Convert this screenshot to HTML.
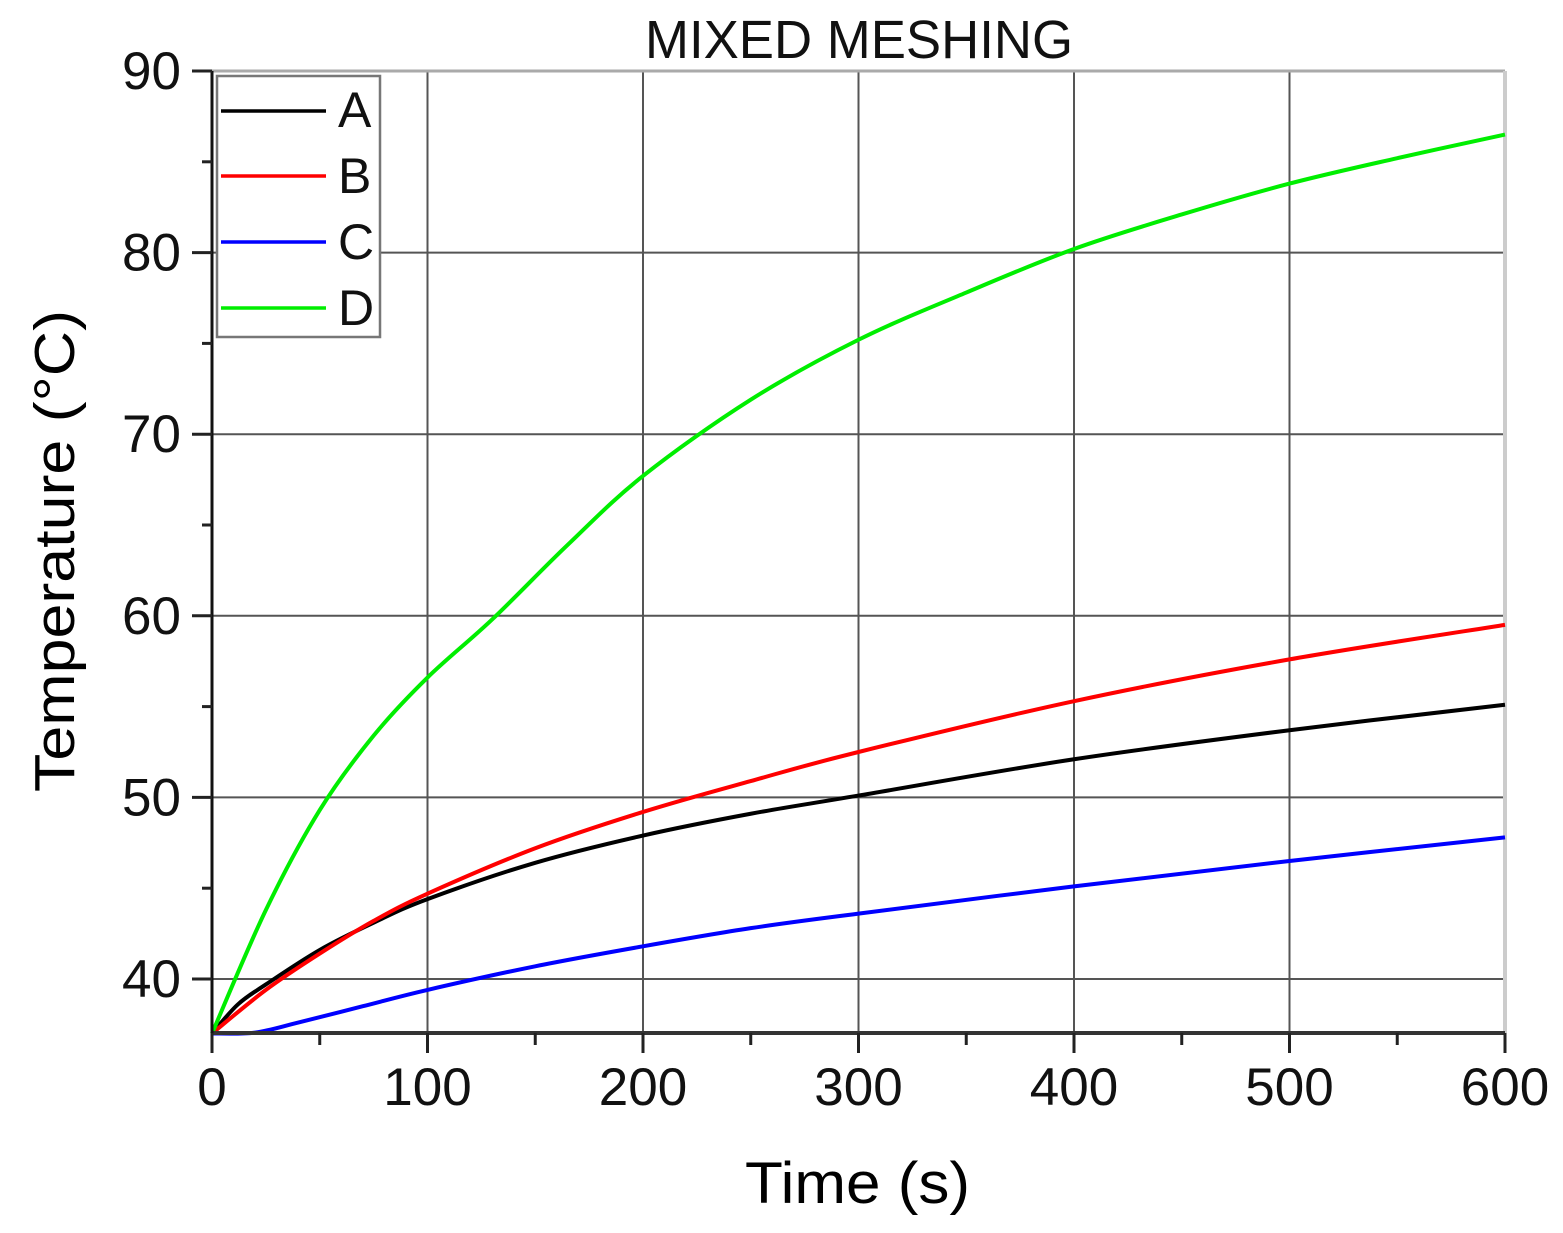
<!DOCTYPE html>
<html><head><meta charset="utf-8"><style>html,body{margin:0;padding:0;background:#fff}svg{display:block}text{font-family:"Liberation Sans",Arial,sans-serif;fill:#111}</style></head>
<body>
<svg id="s" width="1563" height="1233" viewBox="0 0 1563 1233" xmlns="http://www.w3.org/2000/svg">
<rect width="1563" height="1233" fill="#fff"/>
<g id="grid" stroke="#555" stroke-width="2"></g>
<line x1="212" y1="71" x2="1505" y2="71" stroke="#aaa" stroke-width="3"/>
<line x1="1505" y1="71" x2="1505" y2="1033" stroke="#ccc" stroke-width="4"/>
<g id="curves" fill="none" stroke-width="4" stroke-linejoin="round"></g>
<line x1="212" y1="1033" x2="1505" y2="1033" stroke="#333" stroke-width="4"/>
<line x1="212" y1="71" x2="212" y2="1053" stroke="#111" stroke-width="3"/>
<g id="ticks" stroke="#222" stroke-width="3"></g>
<g id="labels" font-size="53"></g>
<rect x="217" y="76" width="163" height="261" fill="#fff" stroke="#777" stroke-width="2.5"/>
<line x1="221" y1="111" x2="326" y2="111" stroke="#000" stroke-width="3.5"/>
<line x1="221" y1="176" x2="326" y2="176" stroke="#f00" stroke-width="3.5"/>
<line x1="221" y1="242" x2="326" y2="242" stroke="#00f" stroke-width="3.5"/>
<line x1="221" y1="308" x2="326" y2="308" stroke="#0e0" stroke-width="3.5"/>
<text x="338" y="127" font-size="50">A</text>
<text x="338" y="193" font-size="50">B</text>
<text x="338" y="259" font-size="50">C</text>
<text x="338" y="325" font-size="50">D</text>
<text x="645" y="58" font-size="54" textLength="428" lengthAdjust="spacingAndGlyphs">MIXED MESHING</text>
<text x="745" y="1203" font-size="58" textLength="225" lengthAdjust="spacingAndGlyphs" style="fill:#000">Time (s)</text>
<text transform="translate(74,792) rotate(-90)" font-size="57" textLength="482" lengthAdjust="spacingAndGlyphs" style="fill:#000">Temperature (°C)</text>
</svg>
<script>
var NS="http://www.w3.org/2000/svg";
function X(t){return 212+t*(1505-212)/600}
function Y(v){return 71+(90-v)*(979-71)/50}
function el(p,n,a){var e=document.createElementNS(NS,n);for(var k in a)e.setAttribute(k,a[k]);p.appendChild(e);return e}
var g=document.getElementById('grid'),tk=document.getElementById('ticks'),lb=document.getElementById('labels');
for(var t=100;t<600;t+=100)el(g,'line',{x1:X(t),y1:71,x2:X(t),y2:1033});
for(var v=40;v<90;v+=10)el(g,'line',{x1:212,y1:Y(v),x2:1505,y2:Y(v)});
for(var t=0;t<=600;t+=50)el(tk,'line',{x1:X(t),y1:1033,x2:X(t),y2:t%100?1045:1053});
for(var v=40;v<=90;v+=5)el(tk,'line',{x1:v%10?202:192,y1:Y(v),x2:212,y2:Y(v)});
for(var t=0;t<=600;t+=100){var e=el(lb,'text',{x:X(t),y:1105,'text-anchor':'middle'});e.textContent=t;}
for(var v=40;v<=90;v+=10){var e=el(lb,'text',{x:181,y:Y(v)+18,'text-anchor':'end'});e.textContent=v;}
var data={
'#000':[[0,37],[12,38.6],[25,39.7],[50,41.6],[75,43.1],[100,44.4],[150,46.4],[200,47.9],[250,49.1],[300,50.1],[400,52.1],[500,53.7],[600,55.1]],
'#f00':[[0,37],[25,39.4],[50,41.4],[75,43.2],[100,44.7],[150,47.2],[200,49.2],[250,50.9],[300,52.5],[400,55.3],[500,57.6],[600,59.5]],
'#00f':[[0,37],[20,37.05],[40,37.6],[70,38.5],[100,39.4],[150,40.7],[200,41.8],[250,42.8],[300,43.6],[400,45.1],[500,46.5],[600,47.8]],
'#0e0':[[0,37],[25,43.8],[50,49.3],[75,53.4],[100,56.6],[130,59.8],[165,63.9],[200,67.7],[250,71.9],[300,75.2],[350,77.8],[400,80.2],[450,82.1],[500,83.8],[550,85.2],[600,86.5]]};
var cg=document.getElementById('curves');
for(var c in data){var p=data[c].map(function(d){return [X(d[0]),Y(d[1])]});var s='M'+p[0][0]+','+p[0][1];
for(var i=0;i<p.length-1;i++){var p0=p[i-1]||p[i],p1=p[i],p2=p[i+1],p3=p[i+2]||p2;
s+=' C'+(p1[0]+(p2[0]-p0[0])/6)+','+(p1[1]+(p2[1]-p0[1])/6)+' '+(p2[0]-(p3[0]-p1[0])/6)+','+(p2[1]-(p3[1]-p1[1])/6)+' '+p2[0]+','+p2[1];}
el(cg,'path',{d:s,stroke:c});}
</script>
</body></html>
